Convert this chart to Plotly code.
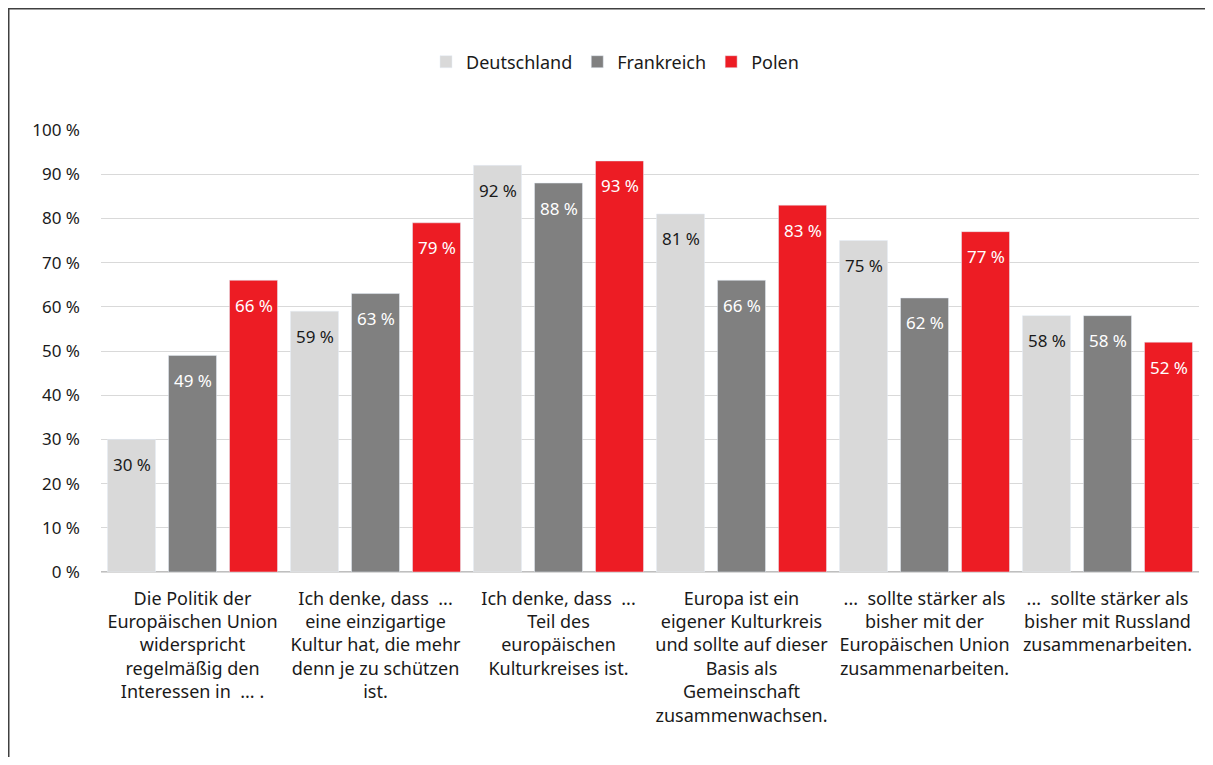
import plotly.graph_objects as go

categories = [
    "Die Politik der<br>Europäischen Union<br>widerspricht<br>regelmäßig den<br>Interessen in  ... .",
    "Ich denke, dass  ...<br>eine einzigartige<br>Kultur hat, die mehr<br>denn je zu schützen<br>ist.",
    "Ich denke, dass  ...<br>Teil des<br>europäischen<br>Kulturkreises ist.",
    "Europa ist ein<br>eigener Kulturkreis<br>und sollte auf dieser<br>Basis als<br>Gemeinschaft<br>zusammenwachsen.",
    "...  sollte stärker als<br>bisher mit der<br>Europäischen Union<br>zusammenarbeiten.",
    "...  sollte stärker als<br>bisher mit Russland<br>zusammenarbeiten.",
]
deutschland = [30, 59, 92, 81, 75, 58]
frankreich = [49, 63, 88, 66, 62, 58]
polen = [66, 79, 93, 83, 77, 52]
tick_values = [0, 10, 20, 30, 40, 50, 60, 70, 80, 90, 100]

FONT = "Noto Sans"
OFF = 8  # page body margin
W, H = 1213 - 2 * OFF, 765 - 2 * OFF
L, R, T, B = 93, 6, 122, 185

series = [
    ("Deutschland", deutschland, "#d9d9d9", "#1a1a1a"),
    ("Frankreich", frankreich, "#808080", "#ffffff"),
    ("Polen", polen, "#ed1c24", "#ffffff"),
]
xpos = list(range(len(categories)))

fig = go.Figure()
annotations = []
n = len(series)
for j, (name, vals, col, tcol) in enumerate(series):
    fig.add_trace(go.Bar(name=name, x=xpos, y=vals, marker_color=col))
    for i, v in enumerate(vals):
        annotations.append(dict(
            x=i + (j - (n - 1) / 2) / n, y=v, xref="x", yref="y",
            text=f"{v} %", showarrow=False, yshift=-25, yanchor="middle",
            font=dict(family=FONT, size=17, color=tcol),
        ))

pw = W - L - R
ph = H - T - B
def px_x(p):
    return (p - OFF - L) / pw
def px_y(p):
    return (H - B - (p - OFF)) / ph

fig.add_shape(type="rect", xref="paper", yref="paper",
              x0=px_x(OFF + 0.75), x1=px_x(1213 + 40), y0=px_y(765 + 40), y1=px_y(OFF + 0.75),
              line=dict(color="#404040", width=1.5), fillcolor="rgba(0,0,0,0)", layer="below")

fig.update_layout(
    width=W, height=H,
    margin=dict(l=L, r=R, t=T, b=B),
    paper_bgcolor="white", plot_bgcolor="white",
    barmode="group", bargap=0, bargroupgap=0.213,
    font=dict(family=FONT, size=17, color="#1a1a1a"),
    annotations=annotations,
    legend=dict(orientation="h", x=px_x(615), xanchor="center", y=px_y(62), yanchor="middle",
                font=dict(family=FONT, size=18, color="#1a1a1a"),
                traceorder="normal"),
    xaxis=dict(tickvals=xpos, ticktext=categories, range=[-0.5, len(categories) - 0.5],
               tickfont=dict(family=FONT, size=18, color="#1a1a1a"), showgrid=False,
               zeroline=False, showline=True, linecolor="#d9d9d9", ticks="",
               ticklabelstandoff=10),
    yaxis=dict(range=[0, 100], tickvals=tick_values, ticktext=[f"{t} %" for t in tick_values],
               tickfont=dict(family=FONT, size=17, color="#1a1a1a"),
               showgrid=True, gridcolor="#d9d9d9", gridwidth=1,
               zeroline=True, zerolinecolor="#bfbfbf", ticklabelstandoff=20),
)

fig.write_html("out.html")
